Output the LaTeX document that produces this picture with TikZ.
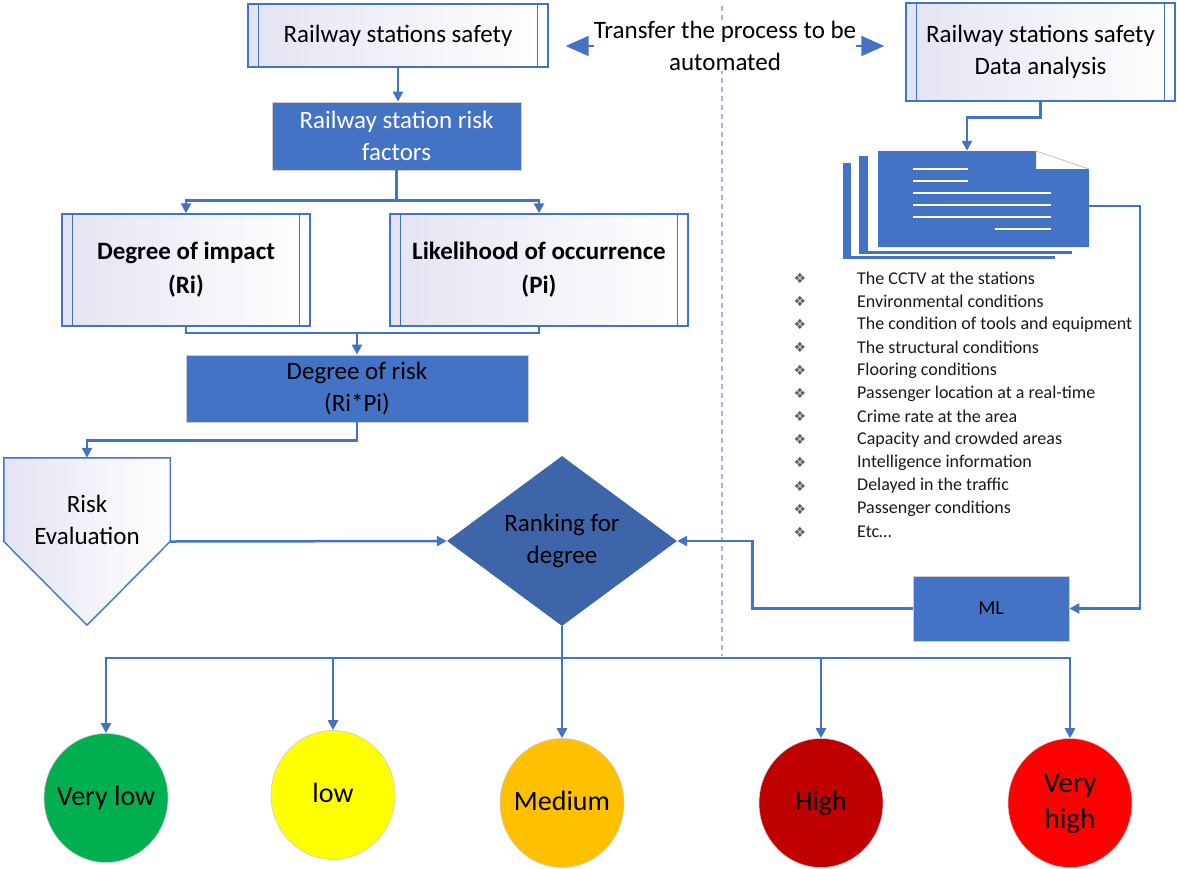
\documentclass[tikz,border=0pt]{standalone}
\usepackage{fontspec}
\setmainfont{Carlito}
\newfontfamily\symfont{DejaVu Sans}
\usetikzlibrary{arrows.meta,shapes.geometric}
\definecolor{flowblue}{HTML}{4472C4}
\definecolor{rankblue}{HTML}{3E64AA}
\definecolor{lavfill}{HTML}{E4E4F2}
\definecolor{splitcol}{HTML}{9DB5E0}
\definecolor{vlowcol}{HTML}{00B050}
\definecolor{lowcol}{HTML}{FFFF00}
\definecolor{medcol}{HTML}{FFC000}
\definecolor{highcol}{HTML}{C00000}
\definecolor{vhighcol}{HTML}{FF0000}
\newcommand{\linecol}{flowblue}
\newcommand{\lvl}[1]{\makebox[0pt]{\begin{tabular}{@{}c@{}}#1\end{tabular}}}

\begin{document}
\begin{tikzpicture}[x=1pt, y=-1pt,
    every node/.style={font=\fontsize{25}{32}\selectfont, inner sep=0pt},
    procbox/.style={draw=\linecol, line width=1.4pt, left color=lavfill, right color=white, align=center},
    bluebox/.style={draw=gray!40, line width=0.8pt, fill=flowblue, align=center},
    conn/.style={draw=\linecol, line width=2.5pt, -{Triangle[length=10pt, width=10pt]}},
    bigtip/.style={draw=\linecol, line width=2pt, -{Triangle[length=23pt, width=20pt]}},
    level/.style={ellipse, draw=gray!40, line width=0.6pt, minimum width=124pt, minimum height=129pt,
                  font=\fontsize{28}{36}\selectfont}]

    \useasboundingbox (0, 0) rectangle (1177, 868);

    \draw[splitcol, line width=1.5pt, dash pattern=on 5pt off 4pt] (722, 6) -- (722, 656);

    \node[procbox, minimum width=300pt, minimum height=63pt] (safety) at (398, 35.5) {Railway stations safety};
    \node[procbox, minimum width=269pt, minimum height=98pt] (analysis) at (1040.5, 52) {Railway stations safety\\Data analysis};
    \node[fill=white, align=center] (transfer) at (725, 46) {Transfer the process to be\\automated};

    \node[bluebox, text=white, minimum width=249pt, minimum height=68pt] (factors) at (396.5, 136) {Railway station risk\\factors};
    \node[procbox, font=\fontsize{25}{34}\selectfont\bfseries, minimum width=248pt, minimum height=112pt] (impact) at (186, 270) {Degree of impact\\(Ri)};
    \node[procbox, font=\fontsize{25}{34}\selectfont\bfseries, minimum width=298pt, minimum height=112pt] (likely) at (539, 270) {Likelihood of occurrence\\(Pi)};
    \node[bluebox, minimum width=342pt, minimum height=67pt] (risk) at (357, 388.5) {Degree of risk\\(Ri*Pi)};

    \node[minimum width=166pt, minimum height=167pt] (reval) at (87, 541.5) {};
    \draw[\linecol, line width=1.4pt, left color=lavfill, right color=white]
        (reval.north west) -- (reval.north east) -- (reval.east) -- (reval.south) -- (reval.west) -- cycle;
    \node[align=center] (evaltext) at (87, 520) {Risk\\Evaluation};

    \node[diamond, fill=rankblue, minimum width=230pt, minimum height=170pt, align=center] (rank) at (562, 541) {Ranking for\\degree};
    \node[bluebox, minimum width=156pt, minimum height=65pt, font=\fontsize{20}{24}\selectfont] (ml) at (991, 608.5) {ML};

    \foreach \n in {safety, impact, likely, analysis} {
        \draw[\linecol, line width=1.4pt] ([xshift=11pt]\n.north west) -- ([xshift=11pt]\n.south west);
        \draw[\linecol, line width=1.4pt] ([xshift=-11pt]\n.north east) -- ([xshift=-11pt]\n.south east);
    }

    % stack of pages
    \fill[flowblue] (843, 163) rectangle (1055, 259);
    \fill[white] (851, 160) rectangle (1063, 256);
    \fill[flowblue] (859, 156) rectangle (1072, 254);
    \fill[white] (868, 153) rectangle (1080, 251);
    \node[minimum width=211pt, minimum height=96pt] (doc) at (983.5, 199) {};
    \fill[flowblue] (878, 151) -- (1036, 151) -- (1036, 169) -- (1089, 169) -- (1089, 247) -- (878, 247) -- cycle;
    \draw[gray!50, line width=0.8pt] (1036, 151) -- (1089, 169);
    \draw[white, line width=2.5pt] (913, 169) -- (968, 169);
    \draw[white, line width=2.5pt] (913, 181) -- (968, 181);
    \draw[white, line width=2.5pt] (913, 193) -- (1051, 193);
    \draw[white, line width=2.5pt] (913, 205) -- (1051, 205);
    \draw[white, line width=2.5pt] (913, 217) -- (1051, 217);
    \draw[white, line width=2.5pt] (995, 229) -- (1051, 229);

    \foreach \txt [count=\i] in {The CCTV at the stations, Environmental conditions, The condition of tools and equipment,
        The structural conditions, Flooring conditions, Passenger location at a real-time, Crime rate at the area,
        Capacity and crowded areas, Intelligence information, Delayed in the traffic, Passenger conditions, Etc\ldots} {
        \node[font=\symfont\fontsize{14}{16}\selectfont, text=gray!75!black] (mark\i) at (800, 255+23.1*\i) {❖};
        \node[anchor=west, font=\fontsize{18}{20}\selectfont, text=black!90] (item\i) at (857, 255+23.1*\i) {\txt};
    }

    \node[level, fill=vlowcol] (vlow) at (106, 798) {\lvl{Very low}};
    \node[level, fill=lowcol] (low) at (333, 795) {\lvl{low}};
    \node[level, fill=medcol] (med) at (562, 803) {\lvl{Medium}};
    \node[level, fill=highcol] (high) at (821, 803) {\lvl{High}};
    \node[level, fill=vhighcol, font=\fontsize{29}{36}\selectfont] (vhigh) at (1070, 803) {\lvl{Very\\high}};

    \draw[bigtip, shorten >=17pt] (transfer.west) -- (safety.east |- transfer.west);
    \draw[bigtip, shorten >=21pt] (transfer.east) -- (analysis.west |- transfer.east);

    \draw[conn] (safety.south) -- (safety.south |- factors.north);
    \draw[conn] (factors.south) -- ++(0, 30) -| (impact.north);
    \draw[conn] (factors.south) -- ++(0, 30) -| (likely.north);
    \coordinate (join) at (357, 333);
    \draw[\linecol, line width=2.5pt] (impact.south) |- (join) -| (likely.south);
    \draw[conn] (join) -- (risk.north);
    \draw[conn] (risk.south) -- ++(0, 18) -| (reval.north);
    \draw[conn] (reval.east) -- (rank.west);
    \foreach \c in {vlow, low, med, high, vhigh}
        \draw[conn] (rank.south) -- ++(0, 32) -| (\c.north);

    \draw[conn] (analysis.south) -- ++(0, 16) -| ([xshift=-16.5pt]doc.north);
    \draw[conn] ([yshift=-7pt]doc.east) -- ++(51, 0) |- (ml.east);
    \draw[conn] (ml.west) -- ++(-160, 0) |- (rank.east);

\end{tikzpicture}
\end{document}
